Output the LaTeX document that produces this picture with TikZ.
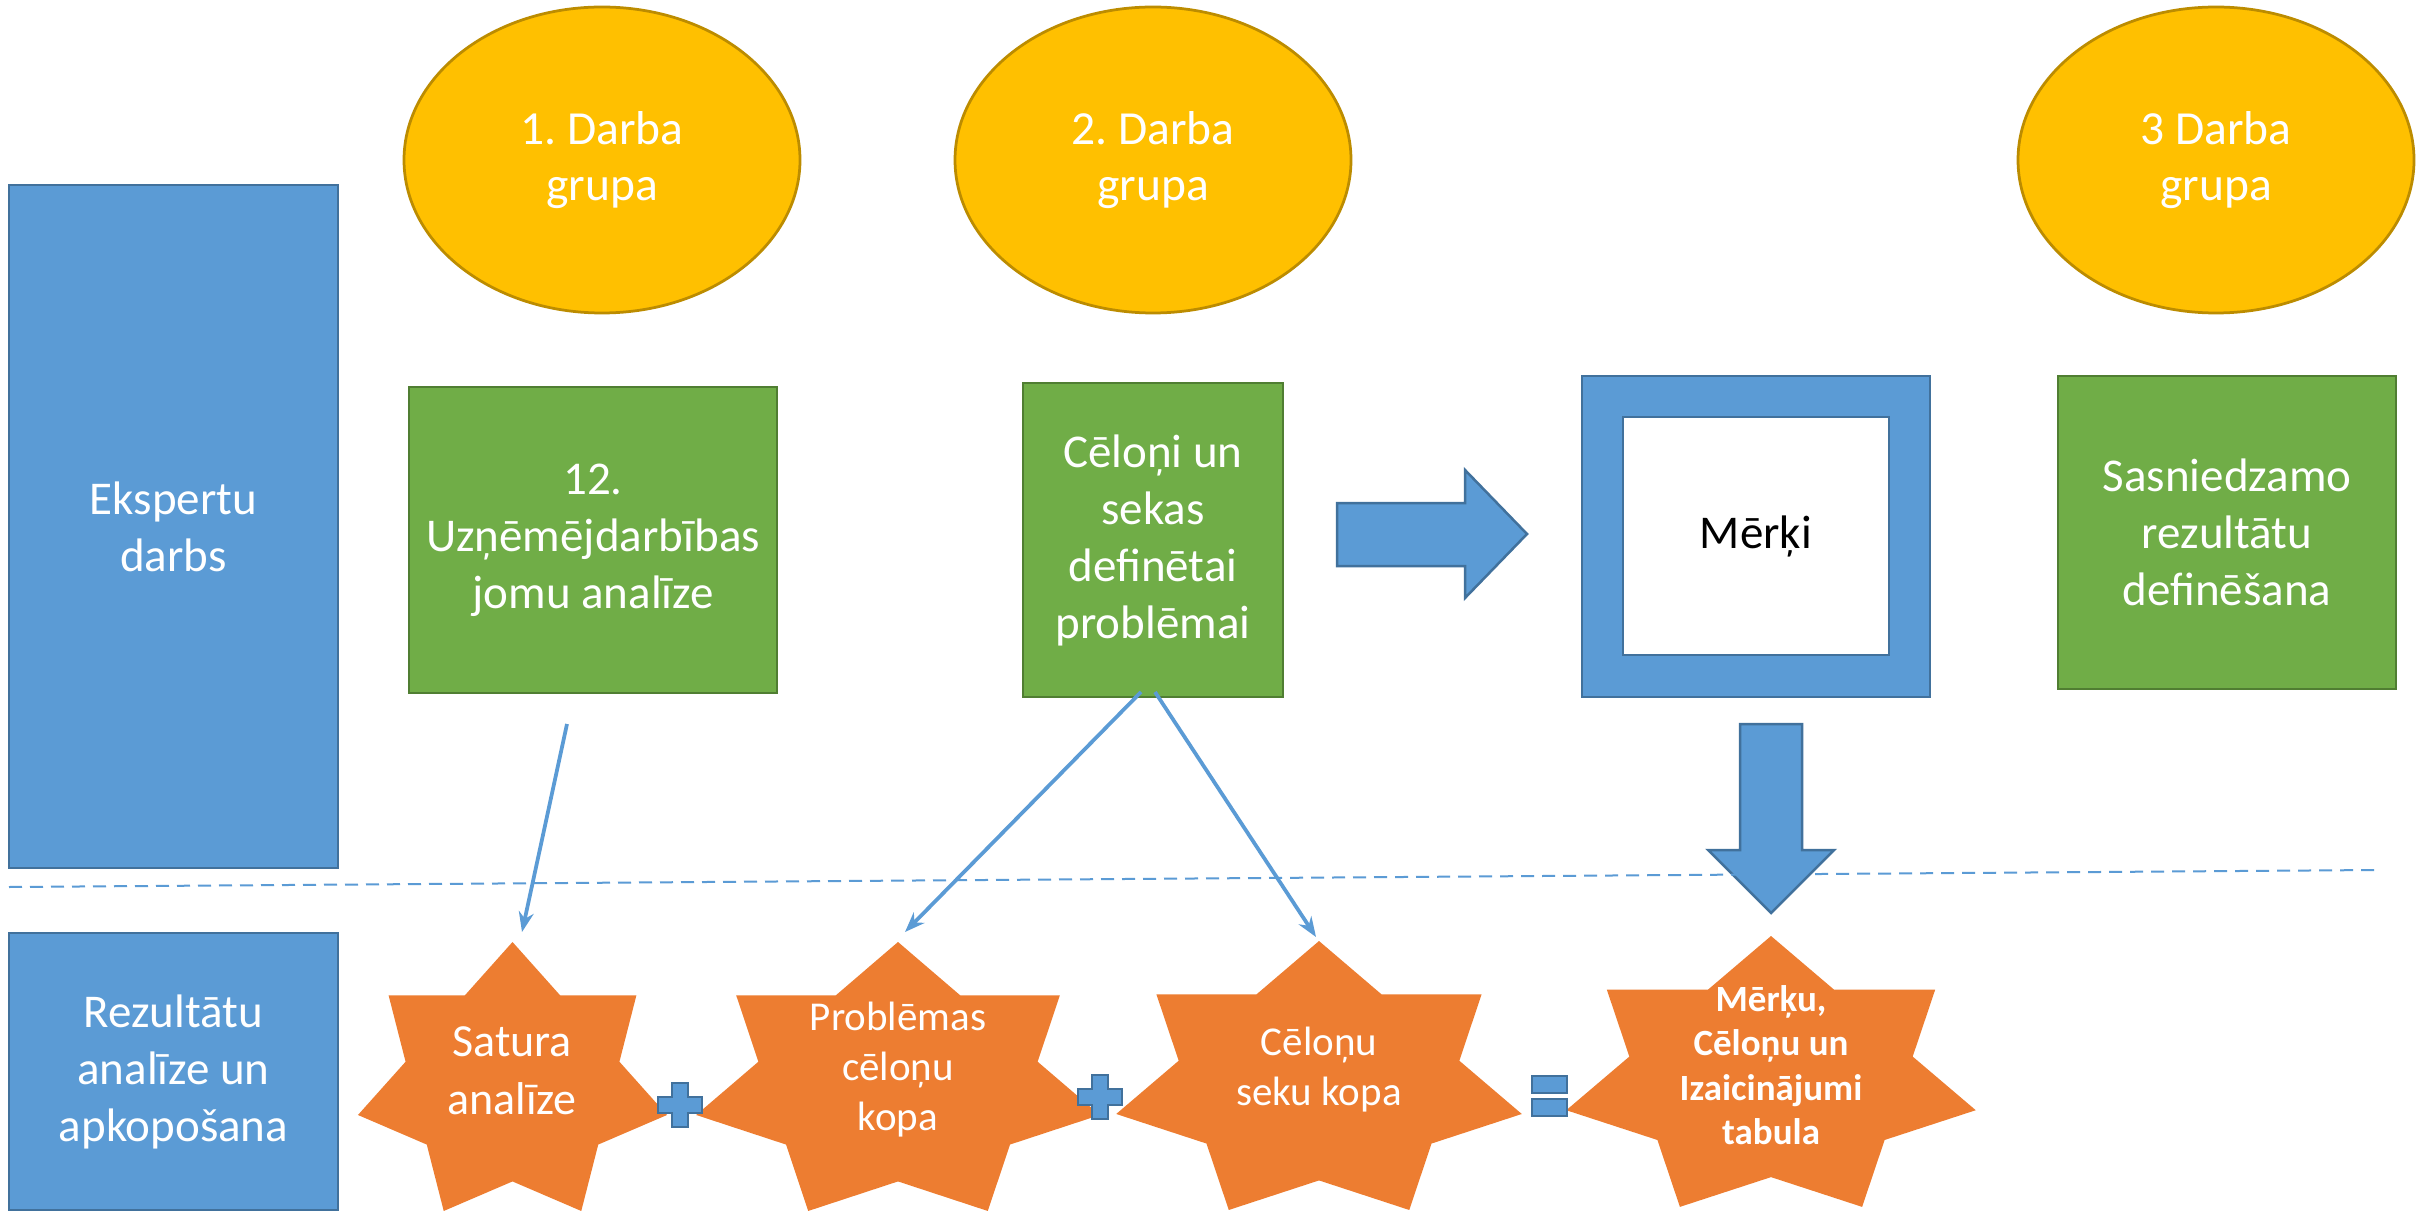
\documentclass[tikz,border=0pt]{standalone}
\usepackage{fontspec}
\setmainfont{Carlito}
\usetikzlibrary{shapes.geometric,arrows.meta}
\definecolor{bfill}{HTML}{5B9BD5}
\definecolor{bline}{HTML}{41719C}
\definecolor{gfill}{HTML}{70AD47}
\definecolor{gline}{HTML}{507E32}
\definecolor{yfill}{HTML}{FFC000}
\definecolor{yline}{HTML}{BC8C00}
\definecolor{ofill}{HTML}{ED7D31}
\frenchspacing
\begin{document}
\begin{tikzpicture}[x=0.4pt,y=-0.4pt,
  box/.style={rectangle, inner sep=0pt, line width=1.1pt, align=center, text=white,
    font=\fontsize{18.8}{22.8}\selectfont},
  bluebox/.style={box, fill=bfill, draw=bline},
  greenbox/.style={box, fill=gfill, draw=gline},
  grp/.style={ellipse, inner sep=0pt, fill=yfill, draw=yline, line width=1.1pt, align=center,
    text=white, font=\fontsize{19}{22.6}\selectfont, minimum width=158.4pt, minimum height=122.4pt},
  startext/.style={align=center, text=white, inner sep=0pt},
  link/.style={draw=bfill, line width=1.5pt, -{Stealth[length=8pt,width=6pt]}},
  sepline/.style={draw=bfill, line width=0.8pt, dash pattern=on 5.2pt off 3.2pt},
  sign/.style={fill=bfill, draw=bline, line width=1pt},
  blockarrow/.style={fill=bfill, draw=bline, line width=1pt},
  starfill/.style={fill=ofill}
]
\fill[white] (0,0) rectangle (2430,1211);
\useasboundingbox (0,0) rectangle (2430,1211);

% left column
\node[bluebox, minimum width=131.6pt, minimum height=273.2pt] (eksp) at (173.5,526.5) {Ekspertu\\darbs};
\node[bluebox, minimum width=131.6pt, minimum height=110.8pt] (rez) at (173.5,1071.5) {Rezultātu\\analīze un\\apkopošana};

% groups
\node[grp] (e1) at (602,160) {1. Darba\\grupa};
\node[grp] (e2) at (1153,160) {2. Darba\\grupa};
\node[grp] (e3) at (2216,160) {3 Darba\\grupa};

% green boxes
\node[greenbox, minimum width=147.2pt, minimum height=122.4pt] (g1) at (593,540) {12.\\Uzņēmējdarbības\\jomu analīze};
\node[greenbox, minimum width=104pt, minimum height=125.6pt] (g2) at (1153,540) {Cēloņi un\\sekas\\definētai\\problēmai};
\node[greenbox, minimum width=135.2pt, minimum height=125.2pt] (g3) at (2227,532.5) {Sasniedzamo\\rezultātu\\definēšana};

% frame with Mērķi
\node[bluebox, minimum width=139.2pt, minimum height=128.4pt] (frame) at (1756,536.5) {};
\node[box, fill=white, draw=bline, text=black, minimum width=106.4pt, minimum height=95.2pt] (merki) at (1756,536) {Mērķi};

% block arrows
\draw[blockarrow] (1337,503) -- (1465,503) -- (1465,470) -- (1527,534) -- (1465,598) -- (1465,566) -- (1337,566) -- cycle;
\draw[blockarrow] (1740,724) -- (1802,724) -- (1802,850) -- (1834,850) -- (1771,913) -- (1708,850) -- (1740,850) -- cycle;

% separator
\coordinate (sepA) at (9,887);
\coordinate (sepB) at (2378,870);
\draw[sepline] (sepA) -- (sepB);

% stars
\fill[starfill, shift={(512.5,1083.5)}, xscale=158.5, yscale=-141.5] (90:1)
  \foreach \k in {1,...,13}{ -- ({90+\k*360/14}:{ifthenelse(mod(\k,2)==1,0.692,1)}) } -- cycle;
\fill[starfill, shift={(898,1083.5)}, xscale=207, yscale=-141.5] (90:1)
  \foreach \k in {1,...,13}{ -- ({90+\k*360/14}:{ifthenelse(mod(\k,2)==1,0.692,1)}) } -- cycle;
\fill[starfill, shift={(1319,1082.5)}, xscale=208, yscale=-141.5] (90:1)
  \foreach \k in {1,...,13}{ -- ({90+\k*360/14}:{ifthenelse(mod(\k,2)==1,0.692,1)}) } -- cycle;
\fill[starfill, shift={(1771,1078.5)}, xscale=210, yscale=-142.5] (90:1)
  \foreach \k in {1,...,13}{ -- ({90+\k*360/14}:{ifthenelse(mod(\k,2)==1,0.692,1)}) } -- cycle;

\node[startext, font=\fontsize{18.4}{23.2}\selectfont] (t1) at (512,1071) {Satura\\analīze};
\node[startext, font=\fontsize{16.4}{20}\selectfont] (t2) at (898,1070) {Problēmas\\cēloņu\\kopa};
\node[startext, font=\fontsize{16.4}{20}\selectfont] (t3) at (1319,1070) {Cēloņu\\seku kopa};
\node[startext, font=\bfseries\fontsize{14.8}{17.8}\selectfont] (t4) at (1771,1065) {Mērķu,\\Cēloņu un\\Izaicinājumi\\tabula};

% plus and equals
\draw[sign, shift={(680,1105)}] (-8,-22) -- (8,-22) -- (8,-8) -- (22,-8) -- (22,8) -- (8,8) -- (8,22) -- (-8,22) -- (-8,8) -- (-22,8) -- (-22,-8) -- (-8,-8) -- cycle;
\draw[sign, shift={(1100,1097)}] (-8,-22) -- (8,-22) -- (8,-8) -- (22,-8) -- (22,8) -- (8,8) -- (8,22) -- (-8,22) -- (-8,8) -- (-22,8) -- (-22,-8) -- (-8,-8) -- cycle;
\draw[sign] (1532,1076) rectangle (1567,1093);
\draw[sign] (1532,1099) rectangle (1567,1116);

% connectors
\coordinate (l1s) at (567,724);
\coordinate (s1in) at (522,932);
\coordinate (l2s) at (1141,692);
\coordinate (s2in) at (905,932);
\coordinate (l3s) at (1155,692);
\coordinate (s3in) at (1316,937);
\draw[link] (l1s) -- (s1in);
\draw[link] (l2s) -- (s2in);
\draw[link] (l3s) -- (s3in);
\end{tikzpicture}
\end{document}
